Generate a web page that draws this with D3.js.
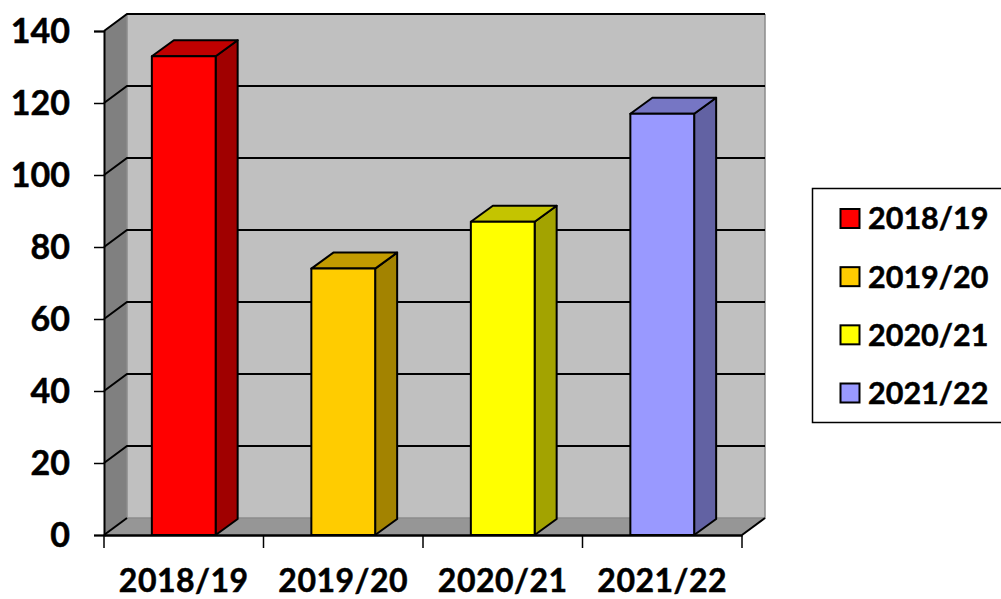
<!DOCTYPE html>
<html><head>
<meta charset="utf-8">
<script src="https://d3js.org/d3.v7.min.js"></script>
<style>
  html, body { margin: 0; padding: 0; background: #fff; overflow: hidden; }
  text { font-family: Lato, sans-serif; font-weight: 700; fill: #000; stroke: #000; stroke-width: 0.5px; }
</style>
</head>
<body>
<svg id="chart" width="1001" height="599"></svg>
<script>
const seasons = ["2018/19", "2019/20", "2020/21", "2021/22"];
const values = [133, 74, 87, 117];
const yTicks = [0, 20, 40, 60, 80, 100, 120, 140];
const faceColors = ["#FF0000", "#FFCC00", "#FFFF00", "#9999FF"];
const topColors = ["#C00000", "#C29B00", "#C4C400", "#7676C4"];
const sideColors = ["#A00000", "#A38300", "#A3A300", "#6262A3"];

const svg = d3.select("#chart");
const plot = { left: 104, right: 742, top: 31, bottom: 535 };
const depth = { x: 23, y: -17 };
const barDepth = { x: 22, y: -16 };

const x = d3.scaleBand().domain(seasons).range([plot.left, plot.right]).paddingInner(0);
const y = d3.scaleLinear().domain([0, 140]).range([plot.bottom, plot.top]);
const barWidth = x.bandwidth() * 0.4;

const line = d3.line();
const poly = pts => line(pts) + "Z";

// walls of the 3d box
const walls = svg.append("g");
walls.append("path") // back
  .attr("d", poly([[plot.left + depth.x, plot.top + depth.y], [plot.right + depth.x, plot.top + depth.y],
                   [plot.right + depth.x, plot.bottom + depth.y], [plot.left + depth.x, plot.bottom + depth.y]]))
  .attr("fill", "#C0C0C0");
walls.append("path") // left side
  .attr("d", poly([[plot.left, plot.top], [plot.left + depth.x, plot.top + depth.y],
                   [plot.left + depth.x, plot.bottom + depth.y], [plot.left, plot.bottom]]))
  .attr("fill", "#808080");
walls.append("path") // floor
  .attr("d", poly([[plot.left, plot.bottom], [plot.left + depth.x, plot.bottom + depth.y],
                   [plot.right + depth.x, plot.bottom + depth.y], [plot.right, plot.bottom]]))
  .attr("fill", "#969696");

// wall edges where the grey meets
walls.append("path")
  .attr("d", line([[plot.left + depth.x, plot.top + depth.y], [plot.left + depth.x, plot.bottom + depth.y], [plot.right + depth.x, plot.bottom + depth.y], [plot.right + depth.x, plot.top + depth.y]]))
  .attr("fill", "none").attr("stroke", "#8c8c8c").attr("stroke-width", 1.5);

// gridlines run across the side wall and back wall
svg.append("g").selectAll("path").data(yTicks.filter(d => d > 0))
  .join("path")
  .attr("d", d => line([[plot.left, y(d)], [plot.left + depth.x, y(d) + depth.y], [plot.right + depth.x, y(d) + depth.y]]))
  .attr("fill", "none")
  .attr("stroke", "#000")
  .attr("stroke-width", 2);

// black diagonals at both ends of the floor
svg.append("g").selectAll("line").data([plot.left, plot.right])
  .join("line")
  .attr("x1", d => d)
  .attr("y1", plot.bottom)
  .attr("x2", d => d + depth.x)
  .attr("y2", plot.bottom + depth.y)
  .attr("stroke", "#000")
  .attr("stroke-width", 2);

// bars
const bars = svg.append("g").selectAll("g").data(seasons).join("g");
const bx = (d) => x(d) + (x.bandwidth() - barWidth) / 2;
const val = (i) => y(values[i]);

bars.append("path") // side
  .attr("d", (d, i) => poly([[bx(d) + barWidth, val(i)], [bx(d) + barWidth + barDepth.x, val(i) + barDepth.y],
                             [bx(d) + barWidth + barDepth.x, plot.bottom + barDepth.y], [bx(d) + barWidth, plot.bottom]]))
  .attr("fill", (d, i) => sideColors[i]);
bars.append("path") // top
  .attr("d", (d, i) => poly([[bx(d), val(i)], [bx(d) + barDepth.x, val(i) + barDepth.y],
                             [bx(d) + barWidth + barDepth.x, val(i) + barDepth.y], [bx(d) + barWidth, val(i)]]))
  .attr("fill", (d, i) => topColors[i]);
bars.append("rect") // front
  .attr("x", d => bx(d))
  .attr("y", (d, i) => val(i))
  .attr("width", barWidth)
  .attr("height", (d, i) => plot.bottom - val(i))
  .attr("fill", (d, i) => faceColors[i]);
bars.selectAll("path, rect")
  .attr("stroke", "#000")
  .attr("stroke-width", 2)
  .attr("stroke-linejoin", "round");

// y axis
const yAxis = svg.append("g")
  .attr("transform", "translate(" + plot.left + ",0)")
  .call(d3.axisLeft(y).tickValues(yTicks).tickSize(10).tickPadding(24));
yAxis.select(".domain").attr("stroke-width", 2);
yAxis.selectAll(".tick line").attr("stroke-width", 1.5);
yAxis.selectAll("text").attr("font-size", 34).attr("dy", "0.34em");

// x axis, ticks sit between the categories
// labels stay a little above the reference so they are not cut at the bottom of the page
const xAxis = svg.append("g")
  .attr("transform", "translate(0," + plot.bottom + ")")
  .call(d3.axisBottom(x).tickSize(0).tickPadding(34));
xAxis.select(".domain").attr("stroke-width", 2.5);
xAxis.selectAll("text").attr("font-size", 32).attr("letter-spacing", 0.5);
svg.append("g").selectAll("line").data(d3.range(seasons.length + 1))
  .join("line")
  .attr("x1", i => plot.left + i * x.step())
  .attr("x2", i => plot.left + i * x.step())
  .attr("y1", plot.bottom)
  .attr("y2", plot.bottom + 13)
  .attr("stroke", "#000")
  .attr("stroke-width", 1.5);

// legend
const legendY = d3.scalePoint().domain(seasons).range([218.5, 393]);
svg.append("rect")
  .attr("x", 812.5).attr("y", 188.5).attr("width", 195).attr("height", 234)
  .attr("fill", "#fff").attr("stroke", "#000").attr("stroke-width", 1.5);
const items = svg.append("g").selectAll("g").data(seasons).join("g")
  .attr("transform", d => "translate(0," + legendY(d) + ")");
items.append("rect")
  .attr("x", 840.5).attr("y", -9.5).attr("width", 19).attr("height", 19)
  .attr("fill", (d, i) => faceColors[i])
  .attr("stroke", "#000").attr("stroke-width", 2);
items.append("text")
  .attr("x", 868).attr("dy", "0.36em")
  .attr("font-size", 30.5)
  .text(d => d);
</script>
</body></html>
